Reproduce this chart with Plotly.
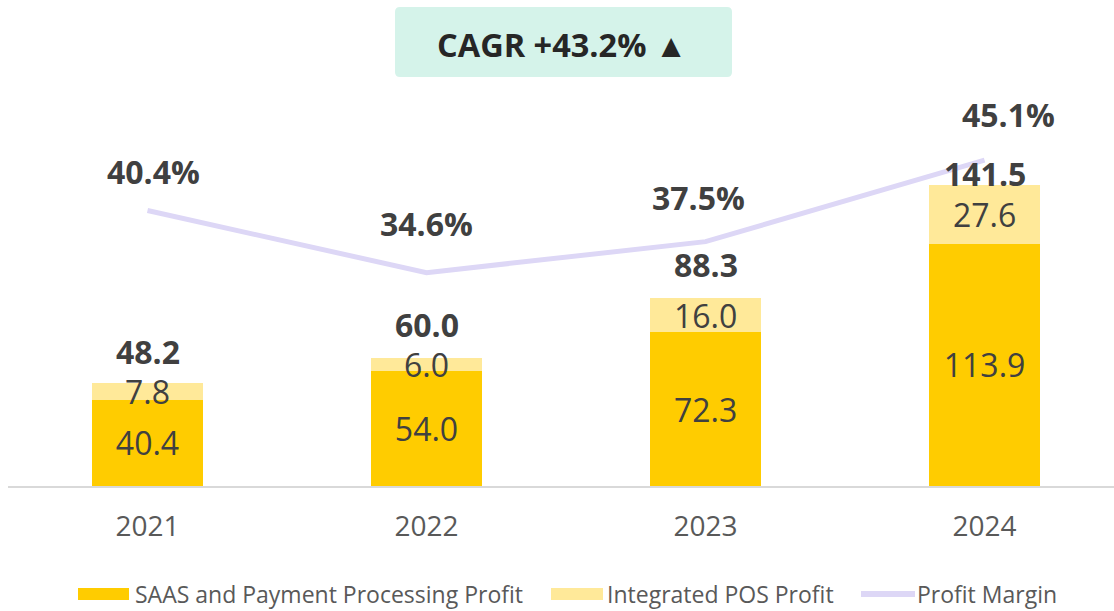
import plotly.graph_objects as go

# ---- data ----
years = ["2021", "2022", "2023", "2024"]
saas_profit = [40.4, 54.0, 72.3, 113.9]
pos_profit = [7.8, 6.0, 16.0, 27.6]
total_profit = [48.2, 60.0, 88.3, 141.5]
profit_margin = [40.4, 34.6, 37.5, 45.1]
series_names = ["SAAS and Payment Processing Profit", "Integrated POS Profit", "Profit Margin"]
cagr_label = "CAGR +43.2% ▲"

# ---- style ----
FONT = "Open Sans"
C_SAAS = "#FFCC00"
C_POS = "#FFE999"
C_LINE = "#DDD7F6"
C_TEXT = "#404040"
C_TICK = "#595959"

L, R, T, B = 8, 0, 0, 125
W, H = 1114, 611
PW = W - L - R
PH = H - T - B


def px_x(px):
    return (px - L) / PW


def px_y(py):
    return (H - B - py) / PH


fig = go.Figure()

fig.add_trace(go.Bar(
    x=years, y=saas_profit, name=series_names[0],
    marker=dict(color=C_SAAS, line=dict(width=0)),
    width=0.4,
    text=[f"{v:.1f}" for v in saas_profit],
    textposition="inside", insidetextanchor="middle",
    constraintext="none", textangle=0,
    textfont=dict(family=FONT, size=32, color=C_TEXT),
    showlegend=False,
))
fig.add_trace(go.Bar(
    x=years, y=pos_profit, name=series_names[1],
    marker=dict(color=C_POS, line=dict(width=0)),
    width=0.4,
    text=[f"{v:.1f}" for v in pos_profit],
    textposition="inside", insidetextanchor="middle",
    constraintext="none", textangle=0,
    textfont=dict(family=FONT, size=32, color=C_TEXT),
    showlegend=False,
))
fig.add_trace(go.Scatter(
    x=years, y=profit_margin, name=series_names[2], yaxis="y2",
    mode="lines", line=dict(color=C_LINE, width=5),
    showlegend=False,
))

# total labels above bars
total_shift = [32, 34, 34, 11]
for i, (tot, sh) in enumerate(zip(total_profit, total_shift)):
    fig.add_annotation(x=i, y=tot, xref="x", yref="y", text=f"<b>{tot:.1f}</b>",
                       showarrow=False, yanchor="middle", yshift=sh,
                       font=dict(family=FONT, size=32, color=C_TEXT))

# margin labels
pct_xshift = [6, 0, -7, 24]
pct_yshift = [39, 49, 44, 46]
for i, (m, xs, ys) in enumerate(zip(profit_margin, pct_xshift, pct_yshift)):
    fig.add_annotation(x=i, y=m, xref="x", yref="y2", text=f"<b>{m:.1f}%</b>",
                       showarrow=False, yanchor="middle", yshift=ys, xshift=xs,
                       font=dict(family=FONT, size=32, color=C_TEXT))

# CAGR box
x0, x1 = px_x(395), px_x(732)
y0, y1 = px_y(77), px_y(7)
rx, ry = 5 / PW, 5 / PH
path = (f"M {x0+rx},{y0} L {x1-rx},{y0} Q {x1},{y0} {x1},{y0+ry} "
        f"L {x1},{y1-ry} Q {x1},{y1} {x1-rx},{y1} L {x0+rx},{y1} "
        f"Q {x0},{y1} {x0},{y1-ry} L {x0},{y0+ry} Q {x0},{y0} {x0+rx},{y0} Z")
fig.add_shape(type="path", path=path, xref="paper", yref="paper",
              fillcolor="#D5F3EA", line=dict(width=0), layer="below")
fig.add_annotation(x=px_x(562), y=px_y(44), xref="paper", yref="paper",
                   text=f"<b>{cagr_label}</b>", showarrow=False,
                   xanchor="center", yanchor="middle",
                   font=dict(family=FONT, size=32.5, color="#262626"))

# custom legend
ly = 594
fig.add_shape(type="rect", xref="paper", yref="paper",
              x0=px_x(78), x1=px_x(129), y0=px_y(600), y1=px_y(588),
              fillcolor=C_SAAS, line=dict(width=0))
fig.add_shape(type="rect", xref="paper", yref="paper",
              x0=px_x(551), x1=px_x(603), y0=px_y(600), y1=px_y(588),
              fillcolor=C_POS, line=dict(width=0))
fig.add_shape(type="line", xref="paper", yref="paper",
              x0=px_x(861), x1=px_x(915), y0=px_y(ly), y1=px_y(ly),
              line=dict(color=C_LINE, width=6))
for name, px in zip(series_names, [133, 605, 915]):
    fig.add_annotation(x=px_x(px), y=px_y(ly), xref="paper", yref="paper",
                       text=name, showarrow=False, xanchor="left", yanchor="middle",
                       font=dict(family=FONT, size=23, color=C_TICK))

fig.update_layout(
    width=W, height=H,
    margin=dict(l=L, r=R, t=T, b=B),
    barmode="stack",
    plot_bgcolor="white", paper_bgcolor="white",
    showlegend=False,
    xaxis=dict(type="category", range=[-0.5, 3.464], showline=True,
               linecolor="#D9D9D9", linewidth=2, showgrid=False, ticks="",
               ticklabelstandoff=14,
               tickfont=dict(family=FONT, size=28, color=C_TICK)),
    yaxis=dict(range=[0, PH / 2.129], visible=False, showgrid=False),
    yaxis2=dict(range=[14.68, 60.06], overlaying="y", visible=False, showgrid=False),
)

fig.write_html("out.html", config={"displayModeBar": False},
               post_script="document.body.style.margin='0';")
